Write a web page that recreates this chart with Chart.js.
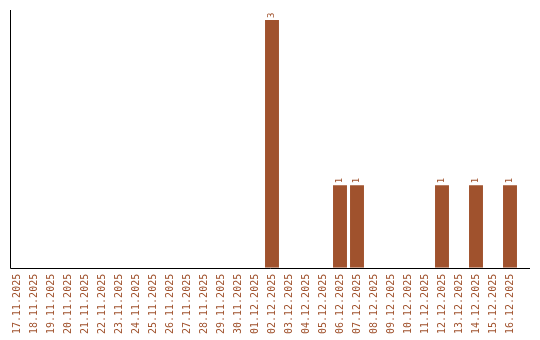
<!DOCTYPE html>
<html>
<head>
<meta charset="utf-8">
<script src="https://cdn.jsdelivr.net/npm/chart.js@4/dist/chart.umd.min.js"></script>
<style>
  html, body { margin: 0; padding: 0; background: #fff; }
  #wrap { width: 540px; height: 340px; }
</style>
</head>
<body>
<div id="wrap"><canvas id="grafica"></canvas></div>
<script>
var fechas = [
    '17.11.2025', '18.11.2025', '19.11.2025', '20.11.2025', '21.11.2025',
    '22.11.2025', '23.11.2025', '24.11.2025', '25.11.2025', '26.11.2025',
    '27.11.2025', '28.11.2025', '29.11.2025', '30.11.2025', '01.12.2025',
    '02.12.2025', '03.12.2025', '04.12.2025', '05.12.2025', '06.12.2025',
    '07.12.2025', '08.12.2025', '09.12.2025', '10.12.2025', '11.12.2025',
    '12.12.2025', '13.12.2025', '14.12.2025', '15.12.2025', '16.12.2025'
];
var cantidades = [
    0, 0, 0, 0, 0, 0, 0, 0, 0, 0,
    0, 0, 0, 0, 0, 3, 0, 0, 0, 1,
    1, 0, 0, 0, 0, 1, 0, 1, 0, 1
];

var color_barra = '#A0522D';
var fuente = '"DejaVu Sans Mono", monospace';

/* ejes y etiquetas de valor */
var ejesPlugin = {
    id: 'ejes',
    afterDatasetsDraw: function(chart) {
        var ctx = chart.ctx;
        var area = chart.chartArea;
        ctx.save();
        ctx.strokeStyle = '#000';
        ctx.lineWidth = 1;
        ctx.beginPath();
        ctx.moveTo(Math.round(area.left) + 1.5, area.top);
        ctx.lineTo(Math.round(area.left) + 1.5, Math.round(area.bottom) + 0.5);
        ctx.lineTo(chart.width - 10, Math.round(area.bottom) + 0.5);
        ctx.stroke();

        var meta = chart.getDatasetMeta(0);
        ctx.fillStyle = color_barra;
        ctx.font = '9px ' + fuente;
        ctx.textAlign = 'left';
        ctx.textBaseline = 'middle';
        meta.data.forEach(function(bar, i) {
            var v = cantidades[i];
            if (!v) return;
            ctx.save();
            ctx.translate(bar.x, bar.y - 2);
            ctx.rotate(-Math.PI / 2);
            ctx.fillText(String(v), 0, 0);
            ctx.restore();
        });
        ctx.restore();
    }
};

var config = {
    type: 'bar',
    data: {
        labels: fechas,
        datasets: [{
            data: cantidades,
            backgroundColor: color_barra,
            borderWidth: 0,
            barPercentage: 0.82,
            categoryPercentage: 1
        }]
    },
    options: {
        responsive: true,
        maintainAspectRatio: false,
        animation: false,
        layout: {
            padding: { left: 8.5, right: 21.5, top: 10, bottom: 0 }
        },
        plugins: {
            legend: { display: false },
            tooltip: { enabled: false }
        },
        scales: {
            x: {
                grid: { display: false, drawTicks: false },
                border: { display: false },
                ticks: {
                    color: color_barra,
                    font: { family: fuente, size: 10 },
                    minRotation: 90,
                    maxRotation: 90,
                    autoSkip: false,
                    padding: 6
                }
            },
            y: {
                display: false,
                min: 0,
                max: 3.12
            }
        }
    },
    plugins: [ejesPlugin]
};

var ctx = document.getElementById('grafica').getContext('2d');
window.miGrafica = new Chart(ctx, config);
</script>
</body>
</html>
